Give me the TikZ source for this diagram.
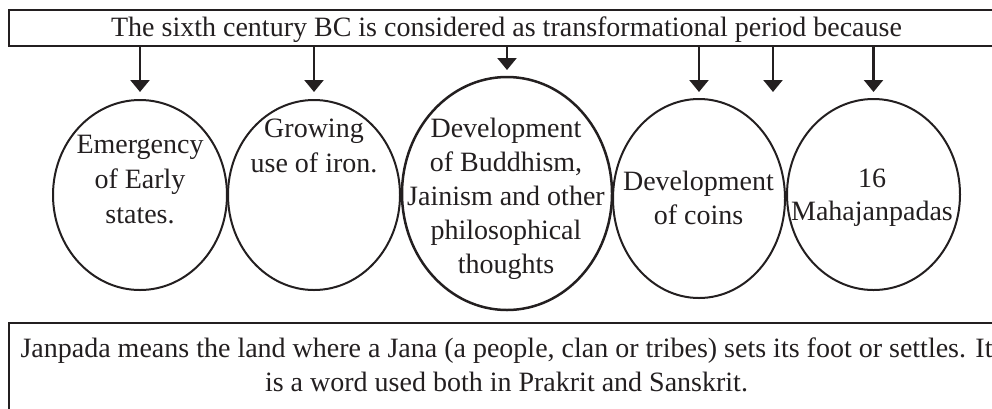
\documentclass[tikz,border=0pt]{standalone}
\usepackage{fontspec}
\setmainfont{Liberation Serif}
\usetikzlibrary{arrows.meta,shapes.geometric}
\definecolor{ink}{RGB}{35,31,32}
\begin{document}
\begin{tikzpicture}[x=1pt,y=-1pt,
  box/.style={draw=ink, line width=2.2pt, rectangle, inner sep=0pt, anchor=north west},
  oval/.style={draw=ink, ellipse, line width=2pt, inner sep=0pt},
  lbl/.style={text=ink, font=\fontsize{28pt}{35pt}\selectfont, align=center, inner sep=0pt, anchor=base},
  arr/.style={draw=ink, line width=2.4pt, -{Triangle[width=19pt,length=12pt]}}]
\useasboundingbox (0,0) rectangle (992,408);
\clip (0,0) rectangle (992,408);
% boxes
\node[box, minimum width=997pt, minimum height=36pt] (topbox) at (8,9) {};
\node[box, minimum width=997pt, minimum height=110pt] (notebox) at (8,322) {};
% ellipses
\node[oval, minimum width=174pt, minimum height=190pt] (e1) at (140,195) {};
\node[oval, minimum width=172pt, minimum height=190pt] (e2) at (314,195) {};
\node[oval, line width=2.5pt, minimum width=210pt, minimum height=233pt] (e3) at (507,193.5) {};
\node[oval, minimum width=172pt, minimum height=199pt] (e4) at (699,198.5) {};
\node[oval, minimum width=173pt, minimum height=191pt] (e5) at (873.5,194.5) {};
% arrow ends
\coordinate (tipline) at (0,92);
\coordinate (tiphigh) at (0,70);
\coordinate (gap) at (773,92);
\draw[arr] (topbox.south -| e1.north) -- (tipline -| e1.north);
\draw[arr] (topbox.south -| e2.north) -- (tipline -| e2.north);
\draw[arr] (topbox.south -| e3.north) -- (tiphigh -| e3.north);
\draw[arr] (topbox.south -| e4.north) -- (tipline -| e4.north);
\draw[arr] (topbox.south -| gap) -- (gap);
\draw[arr] (topbox.south -| e5.north) -- (tipline -| e5.north);
% texts (anchor base = baseline of the last line)
\node[lbl] (t0) at (506.5,36) {The sixth century BC is considered as transformational period because};
\node[lbl] (t1) at (140,223) {Emergency\\of Early\\states.};
\node[lbl] (t2) at (314,172) {Growing\\use of iron.};
\node[lbl, font=\fontsize{28pt}{34pt}\selectfont] (t3) at (506,273) {Development\\of Buddhism,\\Jainism and other\\philosophical\\thoughts};
\node[lbl, font=\fontsize{28pt}{34pt}\selectfont] (t4) at (698.5,224) {Development\\of coins};
\node[lbl, font=\fontsize{28pt}{33pt}\selectfont] (t5) at (872,220) {16\\Mahajanpadas};
\node[lbl, font=\fontsize{28pt}{34pt}\selectfont] (t6) at (506.5,391) {Janpada means the land where a Jana (a people, clan or tribes) sets its foot or settles. It\\is a word used both in Prakrit and Sanskrit.};
\end{tikzpicture}
\end{document}
